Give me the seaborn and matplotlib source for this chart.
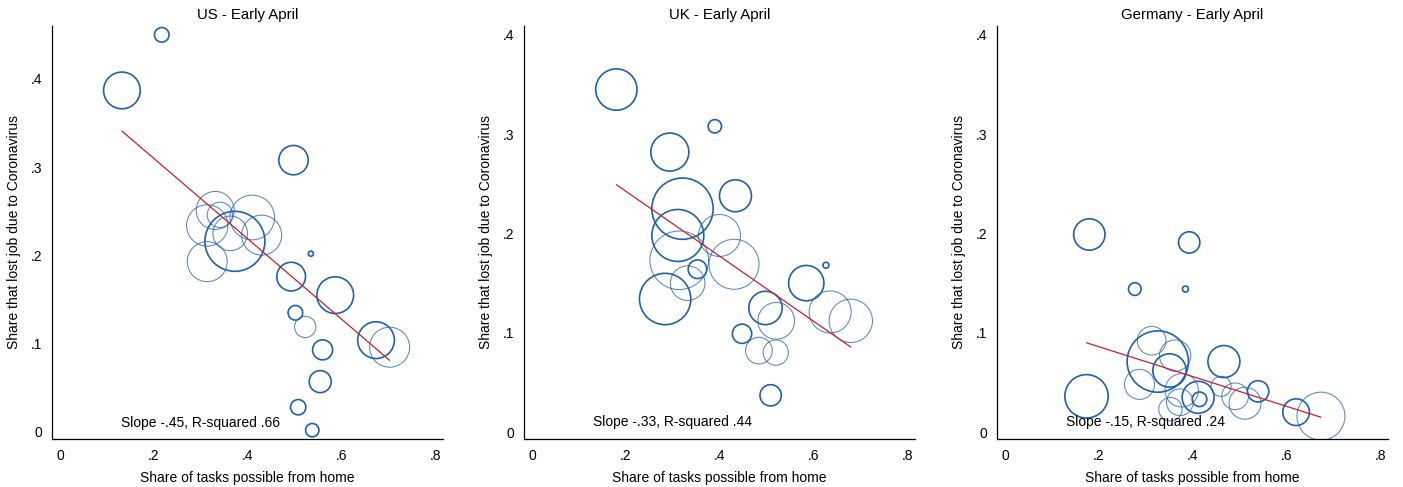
import numpy as np
import pandas as pd
import matplotlib
matplotlib.use("Agg")
import matplotlib.pyplot as plt
import seaborn as sns

# --- data ---
countries = ["US", "UK", "Germany"]

us_x = [0.217, 0.132, 0.498, 0.331, 0.341, 0.410, 0.314, 0.363, 0.430, 0.373, 0.314,
        0.535, 0.493, 0.587, 0.502, 0.523, 0.674, 0.703, 0.560, 0.555, 0.508, 0.538]
us_y = [0.450, 0.387, 0.308, 0.251, 0.246, 0.243, 0.234, 0.225, 0.223, 0.216, 0.193,
        0.202, 0.176, 0.155, 0.135, 0.119, 0.104, 0.096, 0.093, 0.057, 0.028, 0.002]
us_w = [4.8, 30.3, 19.4, 32.5, 14.4, 44.9, 38.4, 27.0, 36.0, 81.0, 36.0,
        0.6, 18.5, 30.3, 4.8, 10.2, 30.3, 36.0, 9.0, 10.9, 5.3, 4.0]
us_g = ["a", "a", "a", "b", "b", "b", "b", "b", "b", "a", "b",
        "a", "a", "a", "a", "b", "a", "b", "a", "a", "a", "a"]

uk_x = [0.180, 0.390, 0.294, 0.321, 0.434, 0.311, 0.400, 0.314, 0.431, 0.353, 0.332,
        0.284, 0.585, 0.627, 0.498, 0.521, 0.636, 0.680, 0.448, 0.484, 0.520, 0.509]
uk_y = [0.345, 0.308, 0.282, 0.225, 0.238, 0.198, 0.198, 0.173, 0.169, 0.164, 0.150,
        0.134, 0.150, 0.168, 0.125, 0.112, 0.121, 0.112, 0.099, 0.082, 0.080, 0.037]
uk_w = [38.4, 4.0, 32.5, 84.6, 23.0, 60.8, 39.7, 77.4, 56.3, 7.8, 27.0,
        59.3, 28.1, 0.8, 25.0, 30.3, 39.7, 42.3, 8.4, 16.0, 14.4, 10.2]
uk_g = ["a", "a", "a", "a", "a", "a", "b", "b", "b", "a", "b",
        "a", "a", "a", "a", "b", "b", "b", "a", "b", "b", "a"]

de_x = [0.180, 0.393, 0.277, 0.385, 0.174, 0.313, 0.326, 0.363, 0.351, 0.287, 0.467,
        0.461, 0.491, 0.512, 0.540, 0.621, 0.674, 0.377, 0.412, 0.415, 0.353, 0.373]
de_y = [0.199, 0.191, 0.144, 0.144, 0.036, 0.092, 0.071, 0.077, 0.062, 0.048, 0.071,
        0.046, 0.036, 0.029, 0.041, 0.020, 0.016, 0.042, 0.035, 0.033, 0.023, 0.030]
de_w = [22.1, 10.2, 3.6, 0.8, 42.3, 18.5, 84.6, 22.1, 25.0, 20.3, 23.0,
        9.0, 16.0, 23.0, 10.2, 16.0, 51.8, 25.0, 23.0, 4.8, 12.3, 16.0]
de_g = ["a", "a", "a", "a", "a", "b", "a", "b", "a", "b", "a",
        "b", "b", "b", "a", "a", "b", "b", "a", "a", "b", "b"]

# weighted fit as reported on the chart
slopes = [-0.455, -0.327, -0.150]
intercepts = [0.401, 0.308, 0.116]
notes = ["Slope -.45, R-squared .66", "Slope -.33, R-squared .44", "Slope -.15, R-squared .24"]

xs = [us_x, uk_x, de_x]
ys = [us_y, uk_y, de_y]
ws = [us_w, uk_w, de_w]
gs = [us_g, uk_g, de_g]

# --- style ---
sns.set_style("white")
plt.rcParams["font.family"] = ["Liberation Sans", "DejaVu Sans"]
plt.rcParams["font.size"] = 10
for k in ["text.color", "axes.labelcolor", "xtick.color", "ytick.color"]:
    plt.rcParams[k] = "black"

fig = plt.figure(figsize=(14.03, 4.87), dpi=100)
lefts = [0.0371, 0.3735, 0.7106]
ylims = [(-0.008, 0.460), (-0.007, 0.409), (-0.007, 0.409)]

blue = "#2060b0"
for i, name in enumerate(countries):
    ax = fig.add_axes([lefts[i], 0.0986, 0.2787, 0.848])
    df = pd.DataFrame({"x": xs[i], "y": ys[i], "w": ws[i], "g": gs[i]})
    for grp, lw, al in [("b", 0.75, 0.75), ("a", 1.2, 1.0)]:
        sub = df[df["g"] == grp]
        sns.scatterplot(data=sub, x="x", y="y", size="w", sizes=(0, 2304), size_norm=(0, 100),
                        facecolor="none", edgecolor=blue, linewidth=lw, alpha=al,
                        legend=False, ax=ax)
    xx = np.array([df["x"].min(), df["x"].max()])
    ax.plot(xx, intercepts[i] + slopes[i] * xx, color="#c8202a", lw=0.9)
    ax.text(0.13, 0.0105, notes[i], fontsize=10, va="center", ha="left")

    ax.set_xlim(-0.017, 0.817)
    ax.set_ylim(*ylims[i])
    ax.set_xticks([0, 0.2, 0.4, 0.6, 0.8])
    ax.set_xticklabels(["0", ".2", ".4", ".6", ".8"])
    ax.set_yticks([0, 0.1, 0.2, 0.3, 0.4])
    ax.set_yticklabels(["0", ".1", ".2", ".3", ".4"])
    ax.tick_params(length=0, pad=7, labelsize=10)
    for s in ["top", "right"]:
        ax.spines[s].set_visible(False)
    for s in ["left", "bottom"]:
        ax.spines[s].set_color("black")
        ax.spines[s].set_linewidth(0.9)
    ax.set_xlabel("Share of tasks possible from home", fontsize=10, labelpad=6)
    ax.set_ylabel("Share that lost job due to Coronavirus", fontsize=10, labelpad=7)
    ax.set_title(name + " - Early April", fontsize=10.8, pad=5)

fig.savefig("out.png", dpi=100)
